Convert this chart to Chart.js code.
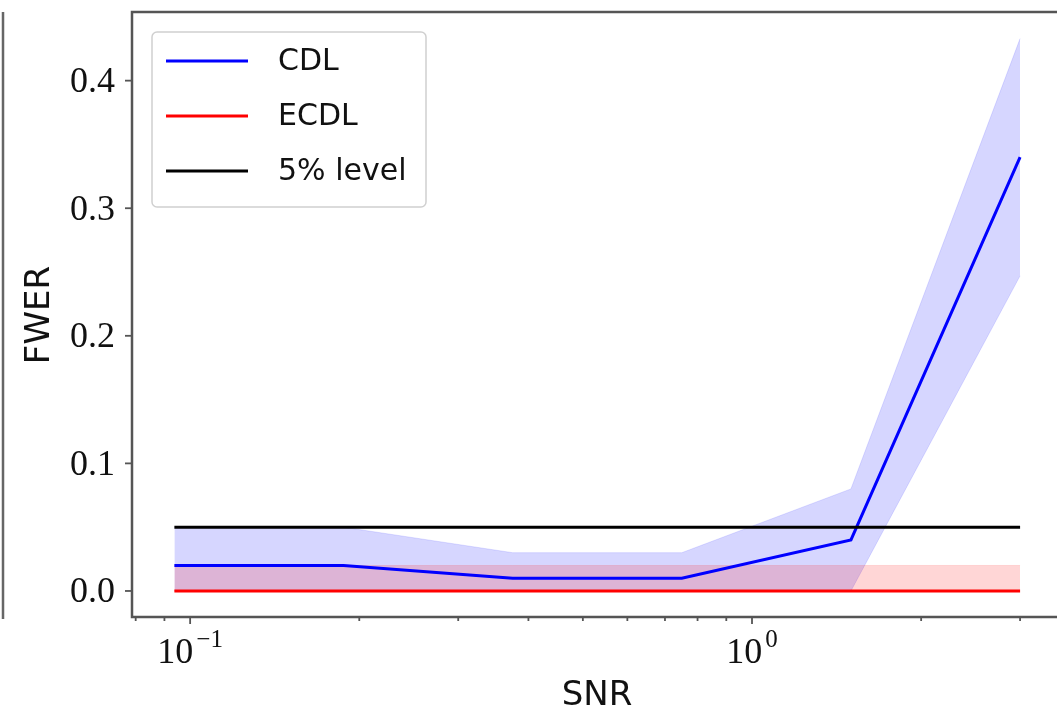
<!DOCTYPE html>
<html>
<head>
<meta charset="utf-8">
<script src="https://cdn.jsdelivr.net/npm/chart.js@4"></script>
<style>
  html, body { margin: 0; padding: 0; background: #fff; overflow: hidden; }
  canvas { display: block; }
</style>
</head>
<body>
<canvas id="myChart" width="1057" height="711"></canvas>
<script>
// SNR grid and family-wise error rates
const snr = [0.09375, 0.1875, 0.375, 0.75, 1.5, 3];
const cdlMean = [0.02, 0.02, 0.01, 0.01, 0.04, 0.34];
const cdlLow = [0, 0, 0, 0, 0, 0.247];
const cdlHigh = [0.05, 0.05, 0.03, 0.03, 0.08, 0.433];
const ecdlMean = [0, 0, 0, 0, 0, 0];
const ecdlLow = [0, 0, 0, 0, 0, 0];
const ecdlHigh = [0.02, 0.02, 0.02, 0.02, 0.02, 0.02];
const level = [0.05, 0.05, 0.05, 0.05, 0.05, 0.05];

const xMajor = [0.1, 1];
const xMajorLabels = [["10", "\u22121"], ["10", "0"]];
const xMinor = [0.08, 0.09, 0.2, 0.3, 0.4, 0.5, 0.6, 0.7, 0.8, 0.9, 2, 3];
const yTicks = [0, 0.1, 0.2, 0.3, 0.4];
const yTickLabels = ["0.0", "0.1", "0.2", "0.3", "0.4"];

const serif = '"Liberation Serif", "DejaVu Serif", serif';
const sans = '"DejaVu Sans", sans-serif';

function pts(ys) {
  return snr.map((x, i) => ({ x: x, y: ys[i] }));
}

function line(label, ys, color) {
  return { label: label, data: pts(ys), borderColor: color, borderWidth: 3, fill: false, showInLegend: true };
}

function band(ys, color, edge, fill) {
  return { data: pts(ys), borderColor: edge, borderWidth: 1, backgroundColor: color, fill: fill, showInLegend: false };
}

// axes frame, ticks, labels and legend drawn on top of the plot
const frame = {
  id: "frame",
  afterDraw(chart) {
    const ctx = chart.ctx;
    const a = chart.chartArea;
    const x = chart.scales.x;
    const y = chart.scales.y;
    ctx.save();

    // neighbouring panel edge
    ctx.strokeStyle = "#666";
    ctx.lineWidth = 2.5;
    ctx.beginPath();
    ctx.moveTo(3, a.top);
    ctx.lineTo(3, a.bottom + 2);
    ctx.stroke();

    // spines
    ctx.strokeStyle = "#555";
    ctx.lineWidth = 2.5;
    ctx.beginPath();
    ctx.moveTo(a.right + 2, a.top);
    ctx.lineTo(a.left, a.top);
    ctx.lineTo(a.left, a.bottom);
    ctx.lineTo(a.right + 2, a.bottom);
    ctx.stroke();

    // y ticks
    ctx.lineWidth = 1.8;
    ctx.fillStyle = "#111";
    ctx.font = "36px " + serif;
    ctx.textAlign = "right";
    ctx.textBaseline = "middle";
    yTicks.forEach((v, i) => {
      const py = y.getPixelForValue(v);
      ctx.beginPath();
      ctx.moveTo(a.left - 7, py);
      ctx.lineTo(a.left, py);
      ctx.stroke();
      ctx.fillText(yTickLabels[i], a.left - 17, py + 2);
    });

    // x ticks
    xMinor.forEach(v => {
      const px = x.getPixelForValue(v);
      ctx.beginPath();
      ctx.moveTo(px, a.bottom);
      ctx.lineTo(px, a.bottom + 4);
      ctx.stroke();
    });
    ctx.textBaseline = "alphabetic";
    ctx.textAlign = "left";
    xMajor.forEach((v, i) => {
      const px = x.getPixelForValue(v);
      ctx.beginPath();
      ctx.moveTo(px, a.bottom);
      ctx.lineTo(px, a.bottom + 7);
      ctx.stroke();
      const [base, sup] = xMajorLabels[i];
      ctx.font = "36px " + serif;
      const wb = ctx.measureText(base).width;
      ctx.font = "25px " + serif;
      const ws = ctx.measureText(sup).width;
      const x0 = px - (wb + ws + 3) / 2;
      ctx.font = "36px " + serif;
      ctx.fillText(base, x0, a.bottom + 46);
      ctx.font = "25px " + serif;
      ctx.fillText(sup, x0 + wb + 3, a.bottom + 30);
    });

    // axis titles
    ctx.font = "34px " + sans;
    ctx.textAlign = "center";
    ctx.fillText("SNR", (a.left + 1062) / 2, 705);
    ctx.save();
    ctx.translate(49, 315);
    ctx.rotate(-Math.PI / 2);
    ctx.fillText("FWER", 0, 0);
    ctx.restore();

    // legend, in plotting order
    const lx = 152, ly = 32, lw = 274, lh = 175;
    ctx.fillStyle = "rgba(255,255,255,0.85)";
    ctx.strokeStyle = "#d0d0d0";
    ctx.lineWidth = 1.5;
    ctx.beginPath();
    ctx.roundRect(lx, ly, lw, lh, 5);
    ctx.fill();
    ctx.stroke();
    const items = chart.data.datasets.filter(d => d.showInLegend).reverse();
    ctx.font = "30px " + sans;
    ctx.textAlign = "left";
    ctx.textBaseline = "middle";
    items.forEach((d, i) => {
      const ry = 61 + i * 55;
      ctx.strokeStyle = d.borderColor;
      ctx.lineWidth = 3;
      ctx.beginPath();
      ctx.moveTo(166, ry);
      ctx.lineTo(248, ry);
      ctx.stroke();
      ctx.fillStyle = "#111";
      ctx.fillText(d.label, 278, ry + 1);
    });

    ctx.restore();
  }
};

let chart;

function initChart() {
  const ctx = document.getElementById("myChart");

  chart = new Chart(ctx, {
    type: "line",
    data: {
      // first dataset ends up on top
      datasets: [
        line("5% level", level, "#000000"),
        line("ECDL", ecdlMean, "#ff0000"),
        line("CDL", cdlMean, "#0000ff"),
        band(ecdlHigh, "rgba(255,0,0,0.16)", "rgba(255,0,0,0.12)", "+1"),
        band(ecdlLow, "rgba(0,0,0,0)", "rgba(255,0,0,0.12)", false),
        band(cdlHigh, "rgba(0,0,255,0.16)", "rgba(0,0,255,0.12)", "+1"),
        band(cdlLow, "rgba(0,0,0,0)", "rgba(0,0,255,0.12)", false)
      ]
    },
    options: {
      responsive: false,
      animation: false,
      layout: { padding: { left: 132, top: 12, right: 0, bottom: 94 } },
      elements: { point: { radius: 0 }, line: { tension: 0 } },
      plugins: { legend: { display: false }, tooltip: { enabled: false } },
      scales: {
        x: { type: "logarithmic", display: false, min: 0.0788, max: 3.49 },
        y: { type: "linear", display: false, min: -0.0204, max: 0.4538 }
      }
    },
    plugins: [frame]
  });
}

window.onload = () => {
  initChart();
};
</script>
</body>
</html>
